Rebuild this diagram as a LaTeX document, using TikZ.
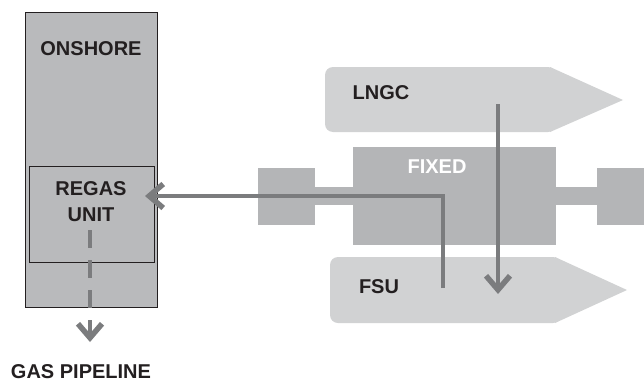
\documentclass[tikz,border=0pt]{standalone}
\usepackage{fontspec}
\setmainfont{Liberation Sans}
\usetikzlibrary{positioning,arrows.meta}
\definecolor{landgrey}{HTML}{B9BABC}
\definecolor{hullgrey}{HTML}{D1D2D3}
\definecolor{deckgrey}{HTML}{B4B5B7}
\definecolor{flowgrey}{HTML}{7B7C7E}
\definecolor{ink}{HTML}{231F20}

\begin{document}
\begin{tikzpicture}[x=1pt, y=-1pt, font=\fontsize{20}{24}\selectfont\bfseries,
      lbl/.style={inner sep=0pt, text=ink, align=center},
      zone/.style={draw=ink, line width=0.9pt, fill=landgrey},
      hull/.style={fill=hullgrey},
      deck/.style={fill=deckgrey},
      f/.style={draw=flowgrey, line width=4pt,
                -{Straight Barb[length=14pt, width=24pt, line width=5.5pt]}}]
    \useasboundingbox (0,0) rectangle (644,383);

    % --- Onshore ------------------------------------------------------
    \draw[zone] (25,12) rectangle (157,307);
    \node[lbl] (onshore) at (91,49) {ONSHORE};
    \node[draw=ink, line width=0.9pt, minimum width=125pt, minimum height=96pt,
          inner sep=0pt, anchor=north west] (regas) at (29,166) {};
    \node[lbl] (regastxt) at (91,202) {REGAS\\[2pt]UNIT};
    \node[lbl] (pipeline) at (81,372) {GAS PIPELINE};

    % --- Terminal: barcos y plataforma --------------------------------
    \fill[hull, rounded corners=8pt] (325,67) rectangle (556,132);
    \fill[hull] (550,67) -- (623,100) -- (550,132) -- cycle;
    \fill[hull, rounded corners=8pt] (330,257) rectangle (561,323);
    \fill[hull] (555,257) -- (627,290) -- (555,323) -- cycle;

    \fill[deck] (258,187) rectangle (644,205);
    \fill[deck] (258,168) rectangle (315,225);
    \fill[deck] (597,168) rectangle (644,225);
    \fill[deck] (353,147) rectangle (556,245);

    \node[lbl] (lngc) at (381,93) {LNGC};
    \node[lbl] (fsu) at (379,287) {FSU};
    \node[lbl, text=white] (fixed) at (437,167) {FIXED};

    % --- Flujos -------------------------------------------------------
    \coordinate (fsuout) at (443,288);
    \coordinate (regasin) at (145,196);
    \coordinate (lngcout) at (498,104);
    \coordinate (fsuin) at (498,294);
    \coordinate (gasout) at (90,230);
    \coordinate (gasend) at (90,342);

    \draw[f] (fsuout) |- (regasin);
    \draw[f] (lngcout) -- (fsuin);
    \draw[f, dash pattern=on 18pt off 12pt] (gasout) -- (gasend);
\end{tikzpicture}
\end{document}
